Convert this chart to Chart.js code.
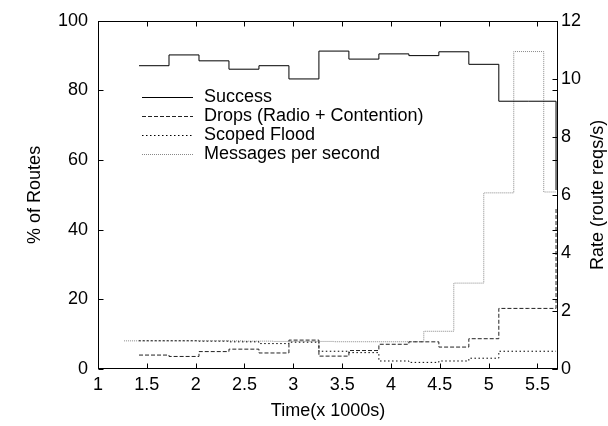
<!DOCTYPE html>
<html>
<head>
<meta charset="utf-8">
<script src="https://cdn.jsdelivr.net/npm/chart.js@4.4.1/dist/chart.umd.min.js"></script>
<style>
  html, body { margin: 0; padding: 0; background: #fff; }
  #wrap { width: 608px; height: 426px; }
</style>
</head>
<body>
<div id="wrap"><canvas id="chart" width="608" height="426"></canvas></div>
<script>
// bin start times (x 1000s), last entry closes the final bin at the plot edge
const binTimes = [1.420, 1.727, 2.034, 2.341, 2.648, 2.955, 3.262, 3.569, 3.876, 4.183, 4.490, 4.797, 5.104, 5.411, 5.690]
// message-rate bins are shifted by half a bin
const msgTimes = [1.267, 1.574, 1.881, 2.188, 2.494, 2.801, 3.108, 3.415, 3.722, 4.030, 4.336, 4.643, 4.950, 5.257, 5.564, 5.690]

const successPct = [87.1, 90.2, 88.5, 86.1, 87.1, 83.3, 91.3, 89.0, 90.5, 90.0, 91.1, 87.5, 76.9, 76.9, 51.4]
const dropsPct   = [4.0, 3.6, 5.0, 5.7, 4.6, 8.3, 3.7, 5.3, 7.1, 7.8, 6.3, 8.7, 17.4, 17.4, 46.0]
const floodPct   = [8.1, 8.1, 8.0, 7.8, 7.3, 7.7, 5.1, 4.7, 2.3, 1.9, 2.3, 3.1, 5.1, 5.1, 5.1]
const msgRate    = [0.97, 0.97, 0.97, 0.97, 0.96, 0.95, 0.95, 0.94, 0.94, 0.94, 1.30, 2.96, 6.07, 10.94, 6.1, 6.1]

const timeTicks = [1, 1.5, 2, 2.5, 3, 3.5, 4, 4.5, 5, 5.5]
const pctTicks = [0, 20, 40, 60, 80, 100]
const rateTicks = [0, 2, 4, 6, 8, 10, 12]

const rateTitle = 'Rate (route reqs/s)'

const font = { family: "'Liberation Sans', Arial, Helvetica, sans-serif", size: 18 }

const toPoints = (xs, ys) => ys.map((y, i) => ({ x: xs[i], y: y }))

// gnuplot style frame: box, inward ticks, rotated right label, legend inside plot
const gnuplotFrame = {
  id: 'gnuplotFrame',
  afterDatasetsDraw(chart) {
    const { ctx, chartArea: a, scales } = chart
    const len = 5
    ctx.save()
    ctx.strokeStyle = '#000'
    ctx.lineWidth = 1
    ctx.setLineDash([])

    const L = Math.round(a.left) + 0.5
    const R = Math.round(a.right) - 0.5
    const T = Math.round(a.top) + 0.5
    const B = Math.round(a.bottom) - 0.5
    ctx.strokeRect(L, T, R - L, B - T)

    ctx.beginPath()
    scales.x.ticks.forEach(t => {
      const px = Math.round(scales.x.getPixelForValue(t.value)) + 0.5
      ctx.moveTo(px, B); ctx.lineTo(px, B - len)
      ctx.moveTo(px, T); ctx.lineTo(px, T + len)
    })
    scales.y.ticks.forEach(t => {
      const py = Math.round(scales.y.getPixelForValue(t.value)) + 0.5
      ctx.moveTo(L, py); ctx.lineTo(L + len, py)
      ctx.moveTo(R, py); ctx.lineTo(R - len, py)
    })
    scales.y2.ticks.forEach(t => {
      const py = Math.round(scales.y2.getPixelForValue(t.value)) + 0.5
      ctx.moveTo(R, py); ctx.lineTo(R - len, py)
    })
    ctx.stroke()

    // right axis title, reading bottom to top
    ctx.fillStyle = '#000'
    ctx.font = font.size + 'px ' + font.family
    ctx.textAlign = 'center'
    ctx.textBaseline = 'middle'
    ctx.save()
    ctx.translate(scales.y2.right - 10, (a.top + a.bottom) / 2)
    ctx.rotate(-Math.PI / 2)
    ctx.fillText(rateTitle, 0, 0)
    ctx.restore()

    // legend
    ctx.textAlign = 'left'
    chart.data.datasets.forEach((ds, i) => {
      const y = Math.round(97 + i * 19) + 0.5
      ctx.beginPath()
      ctx.strokeStyle = ds.borderColor
      ctx.lineWidth = ds.borderWidth
      ctx.setLineDash(ds.borderDash || [])
      ctx.moveTo(142, y)
      ctx.lineTo(193, y)
      ctx.stroke()
      ctx.setLineDash([])
      ctx.fillText(ds.label, 204, y)
    })
    ctx.restore()
  }
}

const tickFmt = v => String(v)

new Chart(document.getElementById('chart'), {
  type: 'line',
  data: {
    datasets: [
      {
        label: 'Success',
        data: toPoints(binTimes, successPct),
        borderColor: '#000',
        borderWidth: 1,
        yAxisID: 'y'
      },
      {
        label: 'Drops (Radio + Contention)',
        data: toPoints(binTimes, dropsPct),
        borderColor: '#222',
        borderWidth: 1,
        borderDash: [4, 2],
        yAxisID: 'y'
      },
      {
        label: 'Scoped Flood',
        data: toPoints(binTimes, floodPct),
        borderColor: '#000',
        borderWidth: 1,
        borderDash: [1.5, 2.5],
        yAxisID: 'y'
      },
      {
        label: 'Messages per second',
        data: toPoints(msgTimes, msgRate),
        borderColor: '#888',
        borderWidth: 1,
        borderDash: [1, 1],
        yAxisID: 'y2'
      }
    ]
  },
  options: {
    responsive: false,
    animation: false,
    devicePixelRatio: 1,
    layout: { padding: { top: 19, left: 0, right: 0, bottom: 0 } },
    elements: {
      point: { radius: 0, hoverRadius: 0 },
      line: { stepped: 'before', tension: 0, fill: false }
    },
    plugins: {
      legend: { display: false },
      tooltip: { enabled: false }
    },
    scales: {
      x: {
        type: 'linear',
        min: 1,
        max: 5.71,
        afterBuildTicks: s => { s.ticks = timeTicks.map(v => ({ value: v })) },
        afterFit: s => { s.height = 57 },
        grid: { display: false, drawTicks: false },
        border: { display: false },
        ticks: { font: font, color: '#000', padding: 5, maxRotation: 0, autoSkip: false, callback: tickFmt },
        title: { display: true, text: 'Time(x 1000s)', font: font, color: '#000', padding: { top: 0, bottom: 4 } }
      },
      y: {
        type: 'linear',
        position: 'left',
        min: 0,
        max: 100,
        afterBuildTicks: s => { s.ticks = pctTicks.map(v => ({ value: v })) },
        afterFit: s => { s.width = 98 },
        grid: { display: false, drawTicks: false },
        border: { display: false },
        ticks: { font: font, color: '#000', padding: 10, callback: tickFmt },
        title: { display: true, text: '% of Routes', font: font, color: '#000', padding: { top: 24, bottom: 0 } }
      },
      y2: {
        type: 'linear',
        position: 'right',
        min: 0,
        max: 12,
        afterBuildTicks: s => { s.ticks = rateTicks.map(v => ({ value: v })) },
        afterFit: s => { s.width = 50 },
        grid: { display: false, drawTicks: false },
        border: { display: false },
        ticks: { font: font, color: '#000', padding: 3, callback: tickFmt }
      }
    }
  },
  plugins: [gnuplotFrame]
})
</script>
</body>
</html>
